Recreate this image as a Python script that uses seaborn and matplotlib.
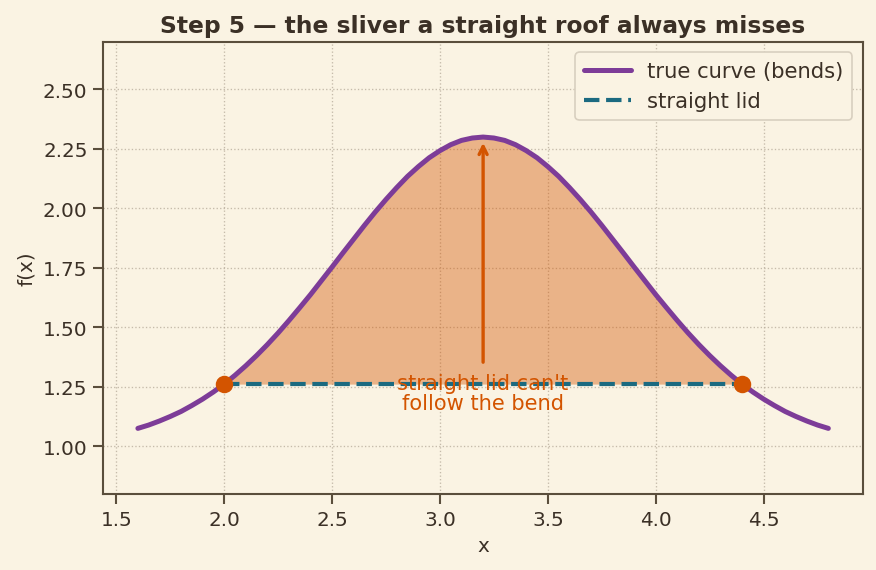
import numpy as np
import pandas as pd
import matplotlib
matplotlib.use('Agg')
import matplotlib.pyplot as plt
import seaborn as sns

# Valores
x_vals = [1.60, 1.65, 1.70, 1.75, 1.80, 1.85, 1.90, 1.95, 2.00, 2.05, 2.10, 2.15, 2.20, 2.25,
          2.30, 2.35, 2.40, 2.45, 2.50, 2.55, 2.60, 2.65, 2.70, 2.75, 2.80, 2.85, 2.90, 2.95,
          3.00, 3.05, 3.10, 3.15, 3.20, 3.25, 3.30, 3.35, 3.40, 3.45, 3.50, 3.55, 3.60, 3.65,
          3.70, 3.75, 3.80, 3.85, 3.90, 3.95, 4.00, 4.05, 4.10, 4.15, 4.20, 4.25, 4.30, 4.35,
          4.40, 4.45, 4.50, 4.55, 4.60, 4.65, 4.70, 4.75, 4.80]
f_vals = [1.076, 1.090, 1.107, 1.126, 1.147, 1.172, 1.199, 1.229, 1.262, 1.299, 1.339, 1.382,
          1.428, 1.477, 1.529, 1.583, 1.638, 1.696, 1.754, 1.813, 1.871, 1.929, 1.985, 2.038,
          2.088, 2.135, 2.176, 2.213, 2.243, 2.268, 2.286, 2.296, 2.300, 2.296, 2.286, 2.268,
          2.243, 2.213, 2.176, 2.135, 2.088, 2.038, 1.985, 1.929, 1.871, 1.813, 1.754, 1.696,
          1.638, 1.583, 1.529, 1.477, 1.428, 1.382, 1.339, 1.299, 1.262, 1.229, 1.199, 1.172,
          1.147, 1.126, 1.107, 1.090, 1.076]
lid_x = [2.0, 4.4]
lid_y = [1.262, 1.262]
peak_x = 3.2
peak_y = 2.30
arrow_base = 1.34

bg = '#faf3e3'
ink = '#3b3026'
purple = '#7d3c98'
teal = '#1b6a80'
orange = '#d35400'

sns.set_theme(style='ticks')
plt.rcParams.update({
    'figure.facecolor': bg, 'axes.facecolor': bg, 'savefig.facecolor': bg,
    'axes.edgecolor': '#5a4e3c', 'text.color': ink, 'axes.labelcolor': ink,
    'xtick.color': '#5a4e3c', 'ytick.color': '#5a4e3c',
    'xtick.labelcolor': ink, 'ytick.labelcolor': ink,
})
plt.rcParams['font.family'] = ['DejaVu Sans']

df = pd.DataFrame({'x': x_vals, 'f': f_vals})
df_lid = pd.DataFrame({'x': lid_x, 'y': lid_y})

fig, ax = plt.subplots(figsize=(7.3, 4.758), dpi=120)
fig.subplots_adjust(left=0.118, right=0.985, top=0.925, bottom=0.133)

# relleno entre la curva y la tapa recta
sub = df[(df['x'] >= lid_x[0]) & (df['x'] <= lid_x[1])]
ax.fill_between(sub['x'], lid_y[0], sub['f'], color=orange, alpha=0.4, linewidth=0, zorder=1)

sns.lineplot(data=df, x='x', y='f', color=purple, linewidth=3, ax=ax,
             label='true curve (bends)', zorder=3)
ax.plot(df_lid['x'], df_lid['y'], color=teal, linewidth=2.5, linestyle='--',
        label='straight lid', zorder=4)
sns.scatterplot(data=df_lid, x='x', y='y', color=orange, s=110, edgecolor=orange,
                linewidth=0, ax=ax, zorder=5, legend=False)

ax.annotate('', xy=(peak_x, peak_y - 0.01), xytext=(peak_x, arrow_base),
            arrowprops=dict(arrowstyle='->', color=orange, lw=2), zorder=6)
ax.text(peak_x, 1.224, "straight lid can't\nfollow the bend", color=orange, fontsize=12.6,
        ha='center', va='center', linespacing=1.0, zorder=7)

ax.set_xlim(1.44, 4.96)
ax.set_ylim(0.8, 2.7)
ax.set_yticks([1.0, 1.25, 1.5, 1.75, 2.0, 2.25, 2.5])
ax.set_xticks([1.5, 2.0, 2.5, 3.0, 3.5, 4.0, 4.5])
ax.tick_params(labelsize=12)
ax.grid(color='#b8ad9c', linestyle=':', linewidth=0.8, alpha=0.8)
ax.set_axisbelow(True)
ax.set_xlabel('x', fontsize=12)
ax.set_ylabel('f(x)', fontsize=12)
ax.set_title('Step 5 \u2014 the sliver a straight roof always misses', fontsize=14,
             fontweight='bold', color=ink)

leg = ax.legend(loc='upper right', fontsize=12.7, frameon=True, facecolor=bg,
                edgecolor='#d8cfbf', framealpha=1, handlelength=2.2)
for t in leg.get_texts():
    t.set_color(ink)

plt.savefig('out.png', dpi=120)
plt.close()
